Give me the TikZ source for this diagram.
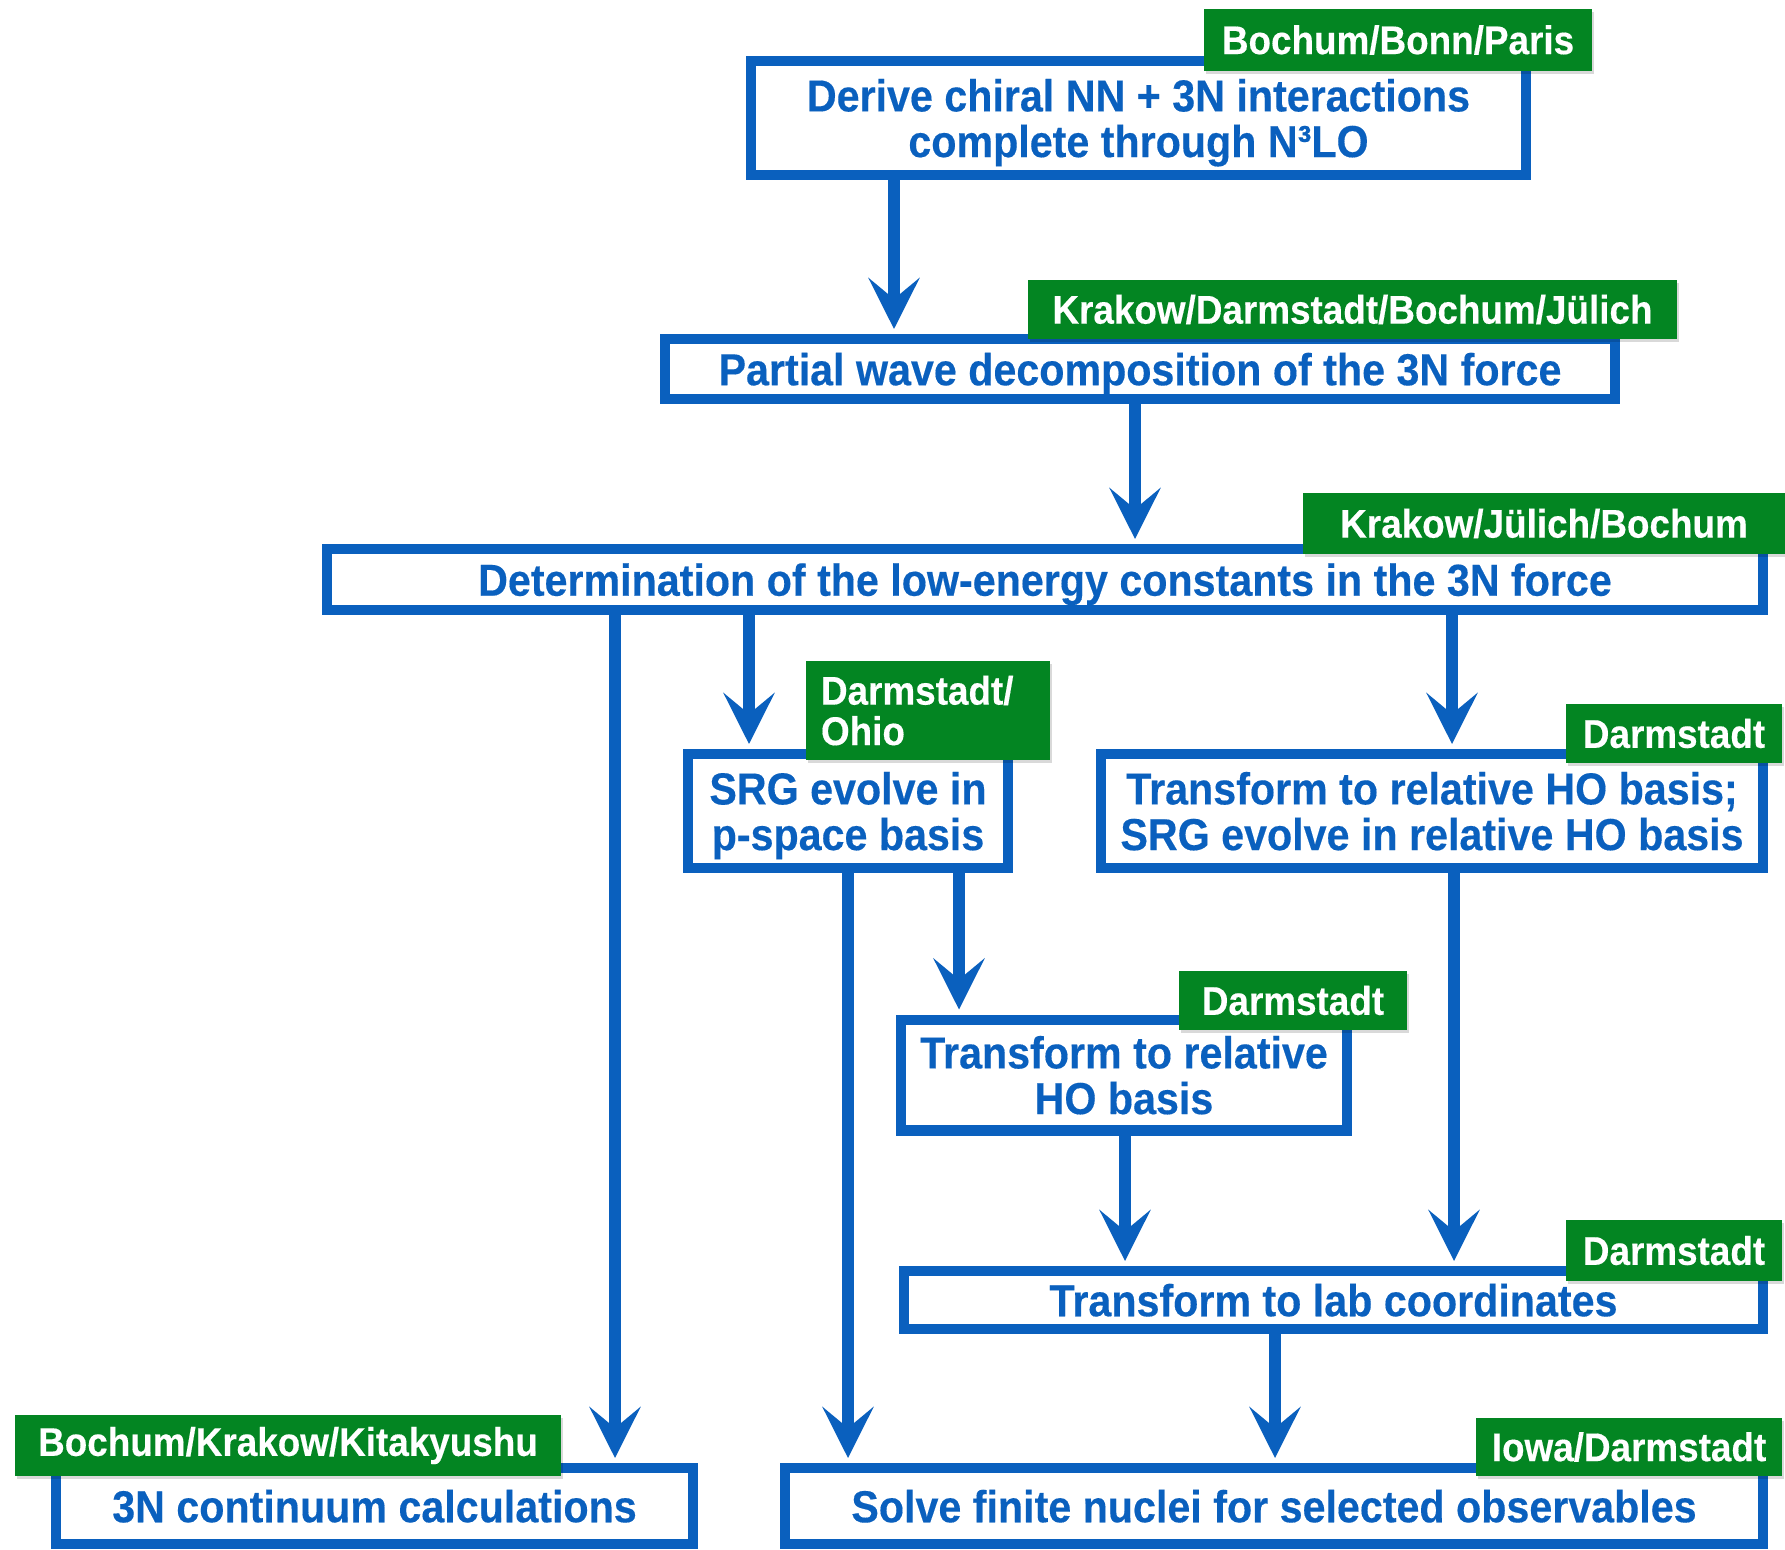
\documentclass[tikz,border=0pt]{standalone}
\usepackage{fontspec}
\setmainfont{Liberation Sans}[FakeStretch=0.92, BoldFeatures={FakeBold=0.3}]
\usetikzlibrary{arrows.meta, shadows}
\definecolor{flowblue}{RGB}{10,96,190}
\definecolor{taggreen}{RGB}{3,133,34}

\begin{document}
\begin{tikzpicture}[x=0.02cm, y=-0.02cm,
    softshadow/.style={drop shadow={shadow xshift=0.04cm, shadow yshift=-0.06cm, opacity=0.15, fill=black}},
    box/.style={draw=flowblue, line width=5.7pt, fill=white, text=flowblue, inner sep=0pt, align=center,
      text depth=0pt, softshadow, font=\bfseries\fontsize{25.5}{26}\selectfont},
    tag/.style={fill=taggreen, text=white, inner sep=0pt, align=center, softshadow,
      font=\bfseries\fontsize{22.8}{23}\selectfont},
    flow/.style={draw=flowblue, line width=7pt, -{Stealth[length=1.02cm, width=1.02cm, inset=0.42cm]}, shorten >=0.1cm}]
  \useasboundingbox (0,0) rectangle (1785,1549);

  % boxes
  \node[box, minimum width=15.50cm, minimum height=2.28cm] (derive) at (1138.5,118) {Derive chiral NN + 3N interactions\\complete through N³LO};
  \node[box, minimum width=19.00cm, minimum height=1.20cm] (pwd) at (1140,369) {Partial wave decomposition of the 3N force};
  \node[box, minimum width=28.72cm, minimum height=1.22cm] (lec) at (1045,579.5) {Determination of the low-energy constants in the 3N force};
  \node[box, minimum width=6.40cm, minimum height=2.28cm] (srgp) at (848,811) {SRG evolve in\\p-space basis};
  \node[box, minimum width=13.24cm, minimum height=2.28cm] (srgho) at (1432,811) {Transform to relative HO basis;\\SRG evolve in relative HO basis};
  \node[box, minimum width=8.92cm, minimum height=2.22cm] (relho) at (1124,1075) {Transform to relative\\HO basis};
  \node[box, minimum width=17.18cm, minimum height=1.16cm] (lab) at (1333.5,1300) {Transform to lab coordinates};
  \node[box, minimum width=12.74cm, minimum height=1.52cm] (cont) at (374.5,1506) {3N continuum calculations};
  \node[box, minimum width=19.56cm, minimum height=1.52cm] (nuclei) at (1274,1506) {Solve finite nuclei for selected observables};

  % arrows
  \draw[flow] (derive.south -| 894,0) -- (pwd.north -| 894,0);
  \draw[flow] (pwd.south -| 1135,0) -- (lec.north -| 1135,0);
  \draw[flow] (lec.south -| 615,0) -- (cont.north -| 615,0);
  \draw[flow] (lec.south -| 749,0) -- (srgp.north -| 749,0);
  \draw[flow] (lec.south -| 1452,0) -- (srgho.north -| 1452,0);
  \draw[flow] (srgp.south -| 848,0) -- (nuclei.north -| 848,0);
  \draw[flow] (srgp.south -| 959,0) -- (relho.north -| 959,0);
  \draw[flow] (relho.south -| 1125,0) -- (lab.north -| 1125,0);
  \draw[flow] (srgho.south -| 1454,0) -- (lab.north -| 1454,0);
  \draw[flow] (lab.south -| 1275,0) -- (nuclei.north -| 1275,0);

  % group tags
  \node[tag, minimum width=7.76cm, minimum height=1.24cm] (derivetag) at (1398,40) {Bochum/Bonn/Paris};
  \node[tag, minimum width=12.98cm, minimum height=1.18cm] (pwdtag) at (1352.5,309.5) {Krakow/Darmstadt/Bochum/Jülich};
  \node[tag, minimum width=9.64cm, minimum height=1.22cm] (lectag) at (1544,523.5) {Krakow/Jülich/Bochum};
  \node[tag, minimum width=4.88cm, minimum height=1.98cm, text width=4.28cm, align=left] (srgptag) at (928,710.5) {Darmstadt/\\Ohio};
  \node[tag, minimum width=4.32cm, minimum height=1.18cm] (srghotag) at (1674,733.5) {Darmstadt};
  \node[tag, minimum width=4.56cm, minimum height=1.18cm] (relhotag) at (1293,1000.5) {Darmstadt};
  \node[tag, minimum width=4.32cm, minimum height=1.22cm] (labtag) at (1674,1250.5) {Darmstadt};
  \node[tag, minimum width=10.92cm, minimum height=1.22cm] (conttag) at (288,1445.5) {Bochum/Krakow/Kitakyushu};
  \node[tag, minimum width=6.12cm, minimum height=1.16cm] (nucleitag) at (1629,1447) {Iowa/Darmstadt};
\end{tikzpicture}
\end{document}
